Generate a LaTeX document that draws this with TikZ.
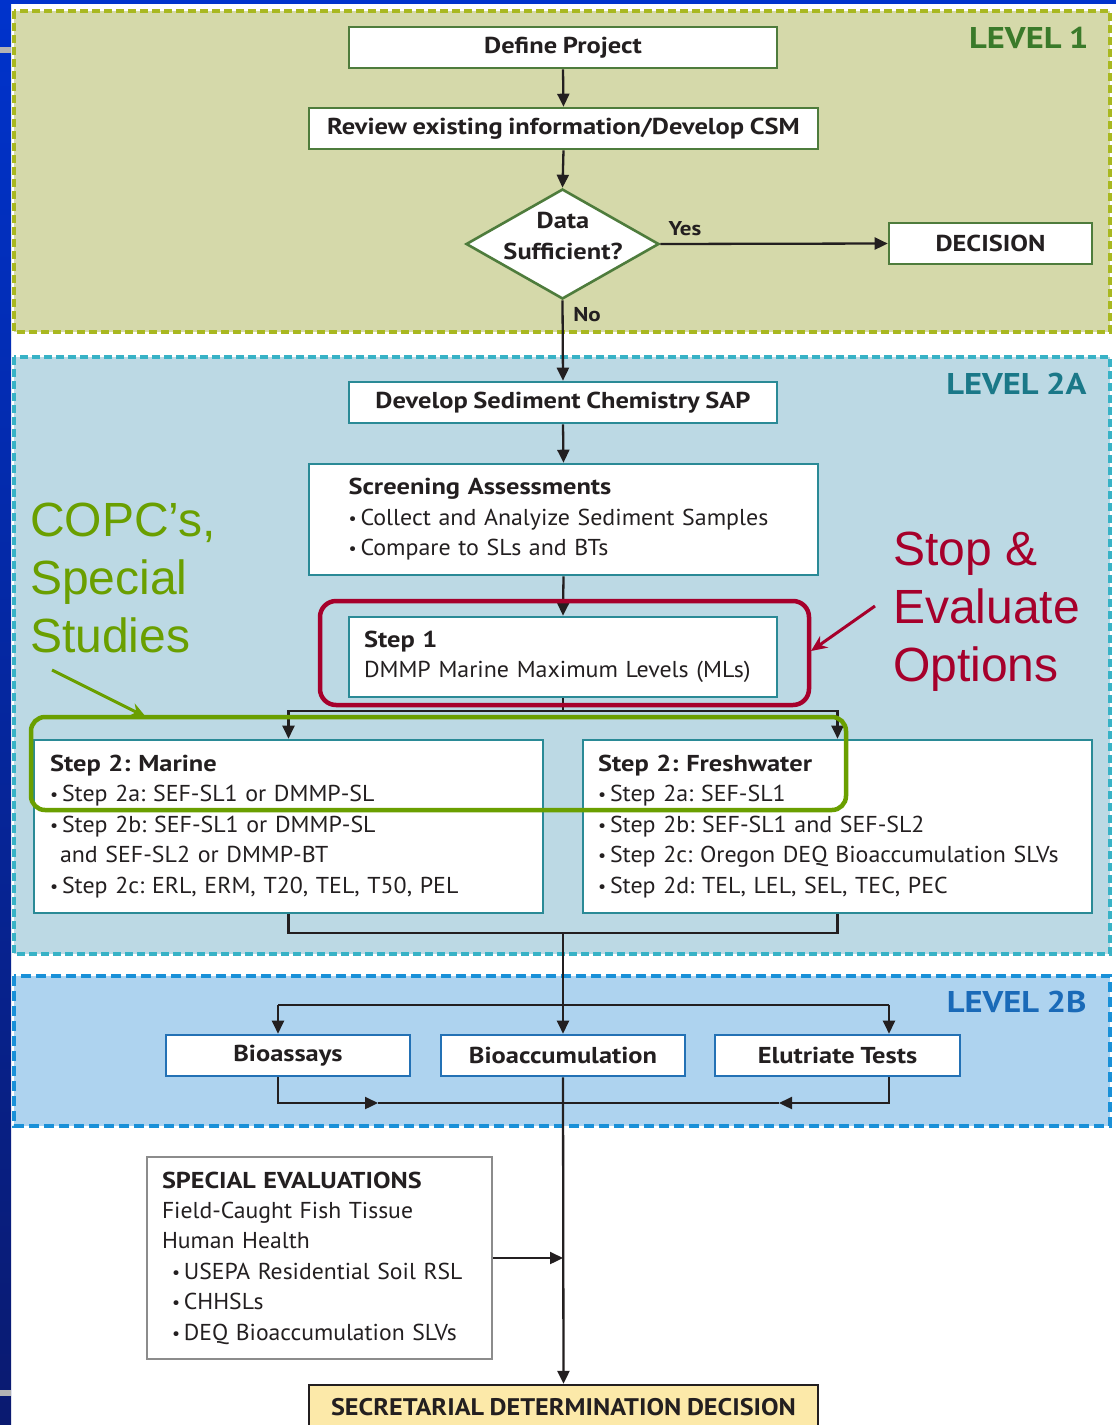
\documentclass[tikz,border=0pt]{standalone}
\usepackage{fontspec}
\setmainfont{PT Sans}[FakeStretch=1.04, WordSpace=0.85, BoldFeatures={FakeStretch=1.15}]
\newfontfamily\arialf{Liberation Sans}
\usetikzlibrary{shapes.geometric,arrows.meta}
\definecolor{ink}{HTML}{231F20}
\definecolor{barTop}{HTML}{0033CC}
\definecolor{barBot}{HTML}{0A1A70}
\definecolor{grayMark}{HTML}{B4B4B4}
\definecolor{fillA}{HTML}{D5D9AA}
\definecolor{dashA}{HTML}{A9B820}
\definecolor{nodeA}{HTML}{4E7C3C}
\definecolor{textA}{HTML}{3A7A2A}
\definecolor{fillB}{HTML}{BCD9E4}
\definecolor{dashB}{HTML}{38B2C6}
\definecolor{nodeB}{HTML}{2A8A96}
\definecolor{textB}{HTML}{1A7888}
\definecolor{fillC}{HTML}{AED3EF}
\definecolor{dashC}{HTML}{1990D8}
\definecolor{nodeC}{HTML}{2371B5}
\definecolor{textC}{HTML}{1A6AB8}
\definecolor{callRed}{HTML}{A6002B}
\definecolor{callGreen}{HTML}{6A9F00}
\definecolor{specGray}{HTML}{8C8C8C}
\definecolor{secFill}{HTML}{FCE9A9}
\newcommand\bul{\makebox[12pt][l]{\raisebox{1pt}{\scalebox{0.75}{\textbullet}}}}
\newcommand\cnd[1]{\scalebox{0.99}[1]{#1}}
\begin{document}
\frenchspacing
\begin{tikzpicture}[x=1pt,y=-1pt,
  basebox/.style={draw, fill=white, line width=2.6pt, inner sep=0pt,
    font=\fontsize{23}{30.5}\selectfont, text=ink},
  boxA/.style={basebox, draw=nodeA},
  boxB/.style={basebox, draw=nodeB},
  boxC/.style={basebox, draw=nodeC},
  bold/.style={font=\fontsize{23}{30.5}\selectfont\bfseries},
  arr/.style={line width=2.3pt, draw=ink, -{Triangle[length=13pt,width=12pt]}},
  ln/.style={line width=2.3pt, draw=ink},
  lvl/.style={font=\fontsize{30}{30}\selectfont\bfseries, anchor=east},
  region/.style={line width=4pt, dash pattern=on 8pt off 4pt},
  callout/.style={font=\arialf\fontsize{48}{58}\selectfont, align=left, anchor=west, inner sep=0pt},
]
\clip (0,0) rectangle (1116,1425);
\fill[white] (0,0) rectangle (1116,1425);
\shade[top color=barTop, bottom color=barBot] (0,0) rectangle (11,1425);
\fill[barTop] (0,0) rectangle (1116,4);
\fill[grayMark] (0,47) rectangle (11,53);
\fill[grayMark] (0,1390) rectangle (11,1396);

% level regions
\draw[region, draw=dashA, fill=fillA] (14,11) rectangle (1110,332);
\draw[region, draw=dashB, fill=fillB] (14,357) rectangle (1110,954);
\draw[region, draw=dashC, fill=fillC, dash pattern=on 10pt off 5pt] (14,976) rectangle (1110,1126);

\node[lvl, text=textA] (L1) at (1092,38) {LEVEL 1};
\node[lvl, text=textB] (L2A) at (1090,384) {LEVEL 2A};
\node[lvl, text=textC] (L2B) at (1090,1002) {LEVEL 2B};

% level 1
\node[boxA, bold, minimum width=428pt, minimum height=41pt] (def) at (563,47.5) {Define Project};
\node[boxA, bold, minimum width=509pt, minimum height=41pt] (rev) at (563.5,128.5) {Review existing information/Develop CSM};
\node[diamond, draw=nodeA, fill=white, line width=2.6pt, minimum width=193pt, minimum height=110pt, inner sep=0pt, aspect=1.75] (dia) at (562.5,244) {};
\node[font=\fontsize{23}{31}\selectfont\bfseries, align=center, text=ink] (diatext) at (563,236) {Data\\Sufficient?};
\node[boxA, bold, minimum width=203pt, minimum height=41pt] (decision) at (990.5,243.5) {DECISION};
\node[font=\fontsize{20}{20}\selectfont\bfseries, text=ink] (yes) at (685,229) {Yes};
\node[font=\fontsize{20}{20}\selectfont\bfseries, text=ink] (no) at (587,315) {No};

% level 2A
\node[boxB, bold, minimum width=428pt, minimum height=41pt] (sap) at (563,402.5) {Develop Sediment Chemistry SAP};
\node[boxB, text width=446pt, inner xsep=31.5pt, minimum height=111pt, align=left] (scr) at (563.5,519.5)
  {\hspace*{8pt}\textbf{Screening Assessments}\\\hspace*{8pt}\bul Collect and Analyize Sediment Samples\\\hspace*{8pt}\bul Compare to SLs and BTs};
\node[boxB, text width=398pt, inner xsep=15pt, minimum height=80pt, align=left] (s1) at (563,657)
  {\textbf{Step 1}\\DMMP Marine Maximum Levels (MLs)};
\node[boxB, text width=477pt, inner xsep=16pt, minimum height=173pt, align=left] (mar) at (288.5,826.5)
  {\textbf{Step 2: Marine}\\\bul Step 2a: SEF-SL1 or DMMP-SL\\\bul Step 2b: SEF-SL1 or DMMP-SL\\\hspace*{10pt}and SEF-SL2 or DMMP-BT\\\bul Step 2c: ERL, ERM, T20, TEL, T50, PEL};
\node[boxB, text width=479pt, inner xsep=15pt, minimum height=173pt, align=left] (fw) at (837.5,826.5)
  {\textbf{Step 2: Freshwater}\\\bul Step 2a: SEF-SL1\\\bul Step 2b: SEF-SL1 and SEF-SL2\\\bul Step 2c: Oregon DEQ Bioaccumulation SLVs\\\bul Step 2d: TEL, LEL, SEL, TEC, PEC};

% level 2B
\node[boxC, bold, minimum width=244pt, minimum height=41pt] (bioa) at (288,1055.5) {Bioassays};
\node[boxC, bold, minimum width=244pt, minimum height=41pt] (bioc) at (563,1055.5) {Bioaccumulation};
\node[boxC, bold, minimum width=245pt, minimum height=41pt] (elu) at (837.5,1055.5) {Elutriate Tests};

% bottom
\node[basebox, draw=specGray, text width=315pt, inner xsep=15pt, minimum height=202pt, align=left, font=\fontsize{23}{30.4}\selectfont] (spe) at (319.5,1258)
  {\cnd{\textbf{SPECIAL EVALUATIONS}}\\\cnd{Field-Caught Fish Tissue}\\\cnd{Human Health}\\
   \hspace*{10pt}\cnd{\bul USEPA Residential Soil RSL}\\\hspace*{10pt}\cnd{\bul CHHSLs}\\\hspace*{10pt}\cnd{\bul DEQ Bioaccumulation SLVs}};
\node[basebox, draw=ink, fill=secFill, line width=2.4pt, minimum width=509pt, minimum height=44pt, font=\fontsize{24}{30}\selectfont\bfseries] (sec) at (563.5,1407)
  {\scalebox{0.95}[1]{SECRETARIAL DETERMINATION DECISION}};

% connectors
\draw[arr] (def.south) -- (rev.north);
\draw[arr] (rev.south) -- (dia.north);
\draw[arr] (dia.east) -- (decision.west);
\draw[arr] (dia.south) -- (sap.north);
\draw[arr] (sap.south) -- (scr.north);
\draw[arr] (scr.south) -- (s1.north);
\coordinate (br) at (563,711);
\draw[ln] (s1.south) -- (br);
\draw[arr] (br) -| (mar.north);
\draw[arr] (br) -| (fw.north);
\coordinate (mg) at (563,933);
\draw[ln] (mar.south) |- (mg);
\draw[ln] (fw.south) |- (mg);
\draw[arr] (mg) -- (bioc.north);
\coordinate (tL) at (278,1005);
\coordinate (tR) at (889,1005);
\draw[ln] (tL) -- (tR);
\draw[arr] (tL) -- (tL |- bioa.north);
\draw[arr] (tR) -- (tR |- elu.north);
\coordinate (bL) at (278,1103);
\coordinate (bR) at (889,1103);
\coordinate (bC) at (563,1103);
\coordinate (mL) at (378,1103);
\coordinate (mR) at (779,1103);
\draw[arr] (bL |- bioa.south) -- (bL) -- (mL);
\draw[ln] (mL) -- (bC);
\draw[arr] (bR |- elu.south) -- (bR) -- (mR);
\draw[ln] (mR) -- (bC);
\draw[arr] (bioc.south) -- (sec.north);
\draw[arr] (spe.east) -- (spe.east -| bioc.south);

% callouts
\node[draw=callRed, line width=4.5pt, rounded corners=16pt, minimum width=489pt, minimum height=104pt, inner sep=0pt] (redbox) at (564.5,653) {};
\node[draw=callGreen, line width=4.5pt, rounded corners=14pt, minimum width=815pt, minimum height=93pt, inner sep=0pt] (greenbox) at (438.5,763.5) {};
\node[callout, text=callRed] (stop) at (893,612) {Stop \&\\Evaluate\\Options};
\node[callout, text=callGreen] (copc) at (30,578) {COPC’s,\\Special\\Studies};
\coordinate (ra) at (875,606);
\coordinate (rb) at (811,651);
\draw[line width=3pt, callRed, -{Stealth[length=16pt,width=14pt]}] (ra) -- (rb);
\coordinate (ga) at (52,670);
\coordinate (gb) at (146,717);
\draw[line width=3pt, callGreen, -{Stealth[length=16pt,width=14pt]}] (ga) -- (gb);
\end{tikzpicture}
\end{document}
